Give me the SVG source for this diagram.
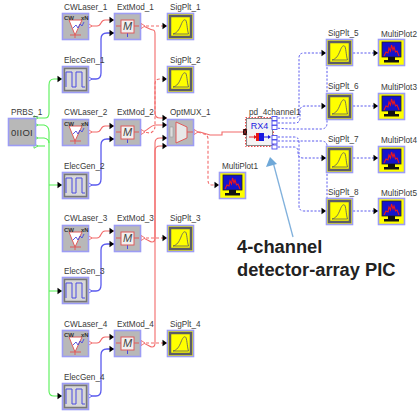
<svg xmlns="http://www.w3.org/2000/svg" width="420" height="416" viewBox="0 0 420 416">
<style>
text{font-family:"Liberation Sans",Arial,sans-serif}
.l{font-size:8.2px;fill:#3a3a3a}
.g{fill:none;stroke:#55f055;stroke-width:1.1}
.b{fill:none;stroke:#5a5aee;stroke-width:1.3}
.r{fill:none;stroke:#f26a6a;stroke-width:1.1}
.rd{fill:none;stroke:#f26a6a;stroke-width:1.1;stroke-dasharray:3 2}
.bd{fill:none;stroke:#5a5aee;stroke-width:1;stroke-dasharray:2.2 1.6}
.base{fill:#b8b8b8;stroke:#9c9cf4;stroke-width:1.6}
.ann{font-size:18.300px;font-weight:bold;fill:#222}
</style>
<defs>
<path id="ah" d="M-4.5-3.2L0 0-4.5 3.2Z" fill="#000"/>
<path id="po" d="M0-2.6L4 0 0 2.6Z" fill="#fff" stroke="#f26a6a" stroke-width=".9"/>
<path id="pb" d="M0-2.6L4 0 0 2.6Z" fill="#fff" stroke="#5a5aee" stroke-width=".9"/>
<path id="pg" d="M0-2.2L4 0 0 2.2Z" fill="#fff" stroke="#55e055" stroke-width=".9"/>
<g id="laser">
<rect class="base" x=".5" y=".5" width="26" height="26"/>
<path d="M7 7L13 22 20 7Z" fill="#fff" stroke="#e05a5a" stroke-width="1"/>
<path d="M8 22H19M13 22V25" stroke="#e05a5a" stroke-width="1"/>
<path d="M11 15l3-3 2 3 2-4 2 2 2-4" fill="none" stroke="#4a4ae0" stroke-width=".9"/>
<text x="2" y="7" font-size="6" font-weight="bold" fill="#333">CW</text>
<text x="19" y="7" font-size="6" font-weight="bold" fill="#333">xN</text>
</g>
<g id="mod">
<rect class="base" x=".5" y=".5" width="26" height="26"/>
<path d="M2 13H7M20 13H25" stroke="#e05a5a" stroke-width="1"/>
<path d="M13.500 20V24" stroke="#4a4ae0" stroke-width="1"/>
<rect x="7" y="7" width="13" height="13" fill="#f0f0f0" stroke="#e05a5a" stroke-width="1"/>
<text x="13.500" y="17" font-size="11" text-anchor="middle" fill="#444" font-style="italic">M</text>
</g>
<g id="gen">
<rect class="base" x=".5" y=".5" width="26" height="26"/>
<rect x="2.500" y="2.500" width="22" height="22" fill="#d8d8d8" stroke="#777" stroke-width="1.500"/>
<path d="M4 21V6H10V21H14V6H20V21H23" fill="none" stroke="#4a4ae0" stroke-width="1"/>
</g>
<g id="sig">
<rect x=".5" y=".5" width="26" height="26" fill="#ffff00" stroke="#9c9cf4" stroke-width="1.600"/>
<rect x="3" y="3" width="21" height="21" fill="#ffff00" stroke="#5c5c66" stroke-width="2.500"/>
<path d="M6 21C10 20 12 17 14 12 15.500 8 17 6 18.500 7 20 8 20 16 21.500 21Z" fill="none" stroke="#556" stroke-width=".8"/>
</g>
<g id="plot">
<rect x=".5" y=".5" width="26" height="26" fill="#ffff00" stroke="#9c9cf4" stroke-width="1.600"/>
<rect x="4" y="3" width="19" height="15" fill="#1414cc" stroke="#222" stroke-width=".8"/>
<path d="M6 17L8 13 10 14 11 9 12.500 12 13.500 6 15 11 16 8 17.500 13 19 12 21 17" fill="none" stroke="#f01818" stroke-width="1.100"/>
<rect x="10" y="18" width="7" height="3" fill="#111"/>
<rect x="6" y="21" width="15" height="2.500" fill="#111"/>
</g>
</defs>
<rect width="420" height="416" fill="#fff"/>
<g id="connectors">
<path class="g" d="M36 118H45Q49 118 49 113V85Q49 79 54 79H62"/>
<path class="g" d="M36 125H44Q49 126 49 132V391Q49 396 54 396H62"/>
<path class="g" d="M36 138H44Q49 139 49 143"/>
<path class="g" d="M36 146H45"/>
<path class="g" d="M49 185H62M49 291H62"/>
<path class="b" d="M88 79H96Q101 79 101 73V39Q101 33 107 33H114"/>
<path class="b" d="M88 185H96Q101 185 101 179V145Q101 139 107 139H114"/>
<path class="b" d="M88 291H96Q101 291 101 285V250Q101 244 107 244H114"/>
<path class="b" d="M88 396H96Q101 396 101 390V355Q101 349 107 349H114"/>
<path class="r" d="M88 26H97C102 26 100 20 105 20H114"/>
<path class="r" d="M88 132H97C102 132 100 126 105 126H114"/>
<path class="r" d="M88 238H97C102 238 100 231 105 231H114"/>
<path class="r" d="M88 343H97C102 343 100 337 105 337H114"/>
<path class="r" d="M141 26C147 26 149 30 153 30Q155 30 155 34V113Q155 118 160 118H167"/>
<path class="r" d="M141 132C147 132 149 126 155 125H167"/>
<path class="r" d="M141 238C147 238 149 242 152 242Q155 242 155 238V143Q155 138 160 138H167"/>
<path class="r" d="M141 343C147 343 149 347 152 347Q155 347 155 343V151Q155 146 160 146H167"/>
<path class="rd" d="M141 26H167M141 238H167M141 343H167"/>
<path class="rd" d="M141 132C147 132 150 134 152 132 155 130 155 128 155 124V84Q155 79 160 79H167"/>
<path class="r" d="M194 132H200L210 135H222V132H243"/>
<path class="rd" d="M198 132L204 134Q208 135 208 139V180Q208 185 212 185H219"/>
<path class="bd" d="M274 118H295Q299 118 299 113V58Q299 53 304 53H326"/>
<path class="bd" d="M274 123H295Q300 123 300 118V111Q300 106 305 106H326"/>
<path class="bd" d="M274 128L290 129H321Q327 129 327 123V66"/>
<path class="bd" d="M274 137H294Q299 137 299 142V206Q299 211 304 211H326"/>
<path class="bd" d="M274 141H321Q327 141 327 146V198"/>
<path class="bd" d="M274 147H294Q298 147 298 152V153Q298 158 303 158H326"/>
<path class="bd" d="M353 53H378M353 106H378M353 158H378M353 211H378"/>
<g id="heads">
<use href="#ah" x="62" y="79"/><use href="#ah" x="62" y="185"/><use href="#ah" x="62" y="291"/><use href="#ah" x="62" y="396"/>
<use href="#ah" x="114" y="20"/><use href="#ah" x="114" y="33"/><use href="#ah" x="114" y="126"/><use href="#ah" x="114" y="139"/>
<use href="#ah" x="114" y="231"/><use href="#ah" x="114" y="244"/><use href="#ah" x="114" y="337"/><use href="#ah" x="114" y="349"/>
<use href="#ah" x="167" y="26"/><use href="#ah" x="167" y="79"/><use href="#ah" x="167" y="118"/><use href="#ah" x="167" y="125"/>
<use href="#ah" x="167" y="138"/><use href="#ah" x="167" y="146"/><use href="#ah" x="167" y="238"/><use href="#ah" x="167" y="343"/>
<use href="#ah" x="219" y="185"/><use href="#ah" x="326" y="53"/><use href="#ah" x="326" y="106"/><use href="#ah" x="326" y="158"/><use href="#ah" x="326" y="211"/>
<use href="#ah" x="378" y="53"/><use href="#ah" x="378" y="106"/><use href="#ah" x="378" y="158"/><use href="#ah" x="378" y="211"/>
<use href="#po" x="88" y="26"/><use href="#po" x="88" y="132"/><use href="#po" x="88" y="238"/><use href="#po" x="88" y="343"/>
<use href="#po" x="141" y="26"/><use href="#po" x="141" y="132"/><use href="#po" x="141" y="238"/><use href="#po" x="141" y="343"/>
<use href="#po" x="194" y="132"/>
<use href="#pb" x="88" y="79"/><use href="#pb" x="88" y="185"/><use href="#pb" x="88" y="291"/><use href="#pb" x="88" y="396"/>
<use href="#pg" x="34" y="118"/><use href="#pg" x="34" y="125"/><use href="#pg" x="34" y="138"/><use href="#pg" x="34" y="146"/>
</g>
</g>
<g id="PRBS_1"><rect class="base" x="8.500" y="118.500" width="27" height="27"/><text x="22" y="136" font-size="9.500" text-anchor="middle" fill="#333" letter-spacing=".3">0IIOI</text><text class="l" x="11" y="115">PRBS_1</text></g>
<g id="CWLaser_1"><use href="#laser" x="62" y="13"/><text class="l" x="64" y="10">CWLaser_1</text></g>
<g id="ExtMod_1"><use href="#mod" x="114" y="13"/><text class="l" x="117" y="10">ExtMod_1</text></g>
<g id="SigPlt_1"><use href="#sig" x="167" y="13"/><text class="l" x="170" y="10">SigPlt_1</text></g>
<g id="ElecGen_1"><use href="#gen" x="62" y="66"/><text class="l" x="64" y="63">ElecGen_1</text></g>
<g id="SigPlt_2"><use href="#sig" x="167" y="66"/><text class="l" x="170" y="63">SigPlt_2</text></g>
<g id="CWLaser_2"><use href="#laser" x="62" y="119"/><text class="l" x="64" y="115">CWLaser_2</text></g>
<g id="ExtMod_2"><use href="#mod" x="114" y="119"/><text class="l" x="117" y="115">ExtMod_2</text></g>
<g id="OptMUX_1"><rect class="base" x="167.500" y="119.500" width="26" height="26"/><path d="M176 122L187 127V138L176 143Z" fill="#e8e8e8" stroke="#e05a5a"/><path d="M187 132H193" stroke="#e05a5a"/><rect x="170" y="127" width="3" height="10" fill="#ddd" stroke="#999" stroke-width=".6"/><text class="l" x="170" y="115">OptMUX_1</text></g>
<g id="ElecGen_2"><use href="#gen" x="62" y="172"/><text class="l" x="64" y="169">ElecGen_2</text></g>
<g id="CWLaser_3"><use href="#laser" x="62" y="225"/><text class="l" x="64" y="221">CWLaser_3</text></g>
<g id="ExtMod_3"><use href="#mod" x="114" y="225"/><text class="l" x="117" y="221">ExtMod_3</text></g>
<g id="SigPlt_3"><use href="#sig" x="167" y="225"/><text class="l" x="170" y="221">SigPlt_3</text></g>
<g id="ElecGen_3"><use href="#gen" x="62" y="277"/><text class="l" x="64" y="274">ElecGen_3</text></g>
<g id="CWLaser_4"><use href="#laser" x="62" y="330"/><text class="l" x="64" y="327">CWLaser_4</text></g>
<g id="ExtMod_4"><use href="#mod" x="114" y="330"/><text class="l" x="117" y="327">ExtMod_4</text></g>
<g id="SigPlt_4"><use href="#sig" x="167" y="330"/><text class="l" x="170" y="327">SigPlt_4</text></g>
<g id="ElecGen_4"><use href="#gen" x="62" y="383"/><text class="l" x="64" y="380">ElecGen_4</text></g>
<g id="pd_4channel1"><rect x="246.500" y="118.500" width="26" height="27" fill="#f4f4f4" stroke="#888" stroke-width="1"/><rect x="245.500" y="117.500" width="28" height="29" fill="none" stroke="#f04a4a" stroke-dasharray="1.500 1.500"/><text x="259.500" y="129" font-size="9" text-anchor="middle" fill="#1a1ae0">RX4</text><path d="M249 137H256" stroke="#e83030"/><rect x="256" y="133" width="3" height="8" fill="#e81818"/><rect x="259" y="133" width="5" height="8" fill="#1818e0"/><path d="M264 137H269" stroke="#1818e0"/><path d="M268 135L271 137 268 139Z" fill="#1818e0"/><path d="M254 135L257 137 254 139Z" fill="#e81818"/><path d="M243 129H247V135H243Z" fill="#111"/><path d="M243 129L247 135M247 129L243 135" stroke="#e83030" stroke-width=".6"/><g fill="#fff" stroke="#4a4aee" stroke-width=".9"><rect x="272" y="116.500" width="5" height="4"/><rect x="272" y="121" width="5" height="4"/><rect x="272" y="125.500" width="5" height="4"/><rect x="272" y="135.500" width="5" height="4"/><rect x="272" y="140" width="5" height="4"/><rect x="272" y="145" width="5" height="4"/></g><text class="l" x="249" y="115">pd_4channel1</text></g>
<g id="MultiPlot1"><use href="#plot" x="219" y="172"/><text class="l" x="222" y="169">MultiPlot1</text></g>
<g id="SigPlt_5"><use href="#sig" x="326" y="39"/><text class="l" x="328" y="36">SigPlt_5</text></g>
<g id="MultiPlot2"><use href="#plot" x="378" y="39"/><text class="l" x="381" y="37">MultiPlot2</text></g>
<g id="SigPlt_6"><use href="#sig" x="326" y="93"/><text class="l" x="328" y="89">SigPlt_6</text></g>
<g id="MultiPlot3"><use href="#plot" x="378" y="93"/><text class="l" x="381" y="90">MultiPlot3</text></g>
<g id="SigPlt_7"><use href="#sig" x="326" y="146"/><text class="l" x="328" y="142">SigPlt_7</text></g>
<g id="MultiPlot4"><use href="#plot" x="378" y="146"/><text class="l" x="381" y="143">MultiPlot4</text></g>
<g id="SigPlt_8"><use href="#sig" x="326" y="198"/><text class="l" x="328" y="195">SigPlt_8</text></g>
<g id="MultiPlot5"><use href="#plot" x="378" y="198"/><text class="l" x="381" y="196">MultiPlot5</text></g>
<g id="annotation"><path d="M293 237L273 162" stroke="#7fb0dc" stroke-width="1.300" fill="none"/><path d="M270 157L266 167 277 164Z" fill="#6fa8d8"/><text class="ann" x="237" y="253">4-channel</text><text class="ann" x="237" y="276">detector-array PIC</text></g>
</svg>
